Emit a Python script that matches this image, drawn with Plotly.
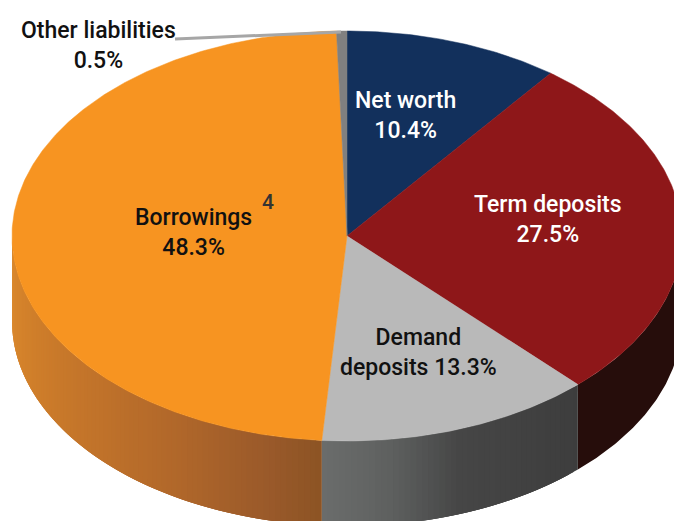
import math
import plotly.graph_objects as go

# Data
categories = ["Net worth", "Term deposits", "Demand deposits", "Borrowings", "Other liabilities"]
shares = [10.4, 27.5, 13.3, 48.3, 0.5]
top_colors = ["#12305C", "#8E1719", "#B9B9B9", "#F79421", "#808080"]
# Rim shading runs from the clockwise start of each slice (t=0) to its end (t=1)
side_stops = {
    "Net worth": [(0, "#0A1A32"), (1, "#0A1A32")],
    "Term deposits": [(0, "#260D0B"), (1, "#260D0B")],
    "Demand deposits": [(0, "#3D3D3D"), (0.5, "#464646"), (0.75, "#5E605F"), (1, "#6B6D6C")],
    "Borrowings": [(0, "#8C5424"), (0.1, "#99592A"), (0.3, "#B0672A"), (0.5, "#C0722A"), (0.75, "#CF7E2A"), (1, "#DC8A2E")],
    "Other liabilities": [(0, "#555555"), (1, "#555555")],
}
label_texts = ["Net worth<br>10.4%", "Term deposits<br>27.5%", "Demand<br>deposits 13.3%", "Borrowings<br>48.3%", "Other liabilities<br>0.5%"]
label_colors = ["white", "white", "#111111", "#111111", "#111111"]
label_x = [405, 548, 418, 193, 98]
label_y = [115, 219, 352, 232, 45]

CX, CY, RX, RY, DEPTH = 347, 236, 335, 205, 85
W, H = 674, 521


def hex_rgb(h):
    return [int(h[i:i + 2], 16) for i in (1, 3, 5)]


def grad(stops, t):
    for (t0, c0), (t1, c1) in zip(stops, stops[1:]):
        if t <= t1:
            f = 0 if t1 == t0 else (t - t0) / (t1 - t0)
            a, b = hex_rgb(c0), hex_rgb(c1)
            return "rgb(%d,%d,%d)" % tuple(round(a[i] + (b[i] - a[i]) * f) for i in range(3))
    return stops[-1][1]


def ex(deg):
    return CX + RX * math.sin(math.radians(deg))


def ey(deg):
    return CY - RY * math.cos(math.radians(deg))


fig = go.Figure()


def poly(xs, ys, color, width=0.0):
    fig.add_trace(go.Scatter(x=xs, y=ys, mode="lines", fill="toself", fillcolor=color,
                             line=dict(color=color, width=width), hoverinfo="skip", showlegend=False))


total = sum(shares)
edges = [0]
for v in shares:
    edges.append(edges[-1] + v / total * 360)

# Rim bands (front half only): each band overlaps the next one to avoid seams
for i, name in enumerate(categories):
    a0, a1 = edges[i], edges[i + 1]
    lo, hi = max(a0, 90), min(a1, 270)
    if lo >= hi:
        continue
    full = len(set(s[1] for s in side_stops[name])) == 1
    n = 1 if full else max(1, int(hi - lo))
    for k in range(n):
        b0 = lo + (hi - lo) * k / n
        b1 = hi if full else lo + (hi - lo) * (k + 3) / n
        b1 = min(b1, hi)
        m = max(2, int((b1 - b0) * 2))
        steps = [b0 + (b1 - b0) * s / m for s in range(m + 1)]
        xs = [ex(b) for b in steps] + [ex(b) for b in reversed(steps)]
        ys = [ey(b) for b in steps] + [ey(b) + DEPTH for b in reversed(steps)]
        poly(xs, ys, grad(side_stops[name], (k + 0.5) / n))

for i, name in enumerate(categories):
    a0, a1 = edges[i], edges[i + 1]
    n = max(4, int((a1 - a0) * 2))
    angs = [a0 + (a1 - a0) * s / n for s in range(n + 1)]
    poly([CX] + [ex(b) for b in angs] + [CX], [CY] + [ey(b) for b in angs] + [CY], top_colors[i], 0.5)

# Leader line for the smallest slice
fig.add_trace(go.Scatter(x=[175, 341], y=[39, 32], mode="lines",
                         line=dict(color="#A6A6A6", width=3), hoverinfo="skip", showlegend=False))

FONT = "Roboto, Liberation Sans, sans-serif"
annotations = [
    dict(x=x, y=y, text=t, showarrow=False, xanchor="center", yanchor="middle", align="center",
         font=dict(family=FONT, size=23, color=c, weight=500))
    for t, c, x, y in zip(label_texts, label_colors, label_x, label_y)
]
annotations.append(dict(x=268, y=202, text="4", showarrow=False, xanchor="center", yanchor="middle",
                        font=dict(family=FONT, size=21, color="#333333", weight=500)))

fig.update_layout(
    width=W, height=H, margin=dict(l=0, r=0, t=0, b=0), autosize=False,
    paper_bgcolor="white", plot_bgcolor="white", annotations=annotations,
    xaxis=dict(range=[0, W], visible=False, fixedrange=True),
    yaxis=dict(range=[H, 0], visible=False, fixedrange=True),
)
fig.write_html("out.html", config=dict(displayModeBar=False),
               post_script="document.body.style.margin='0';document.body.style.overflow='hidden';")
